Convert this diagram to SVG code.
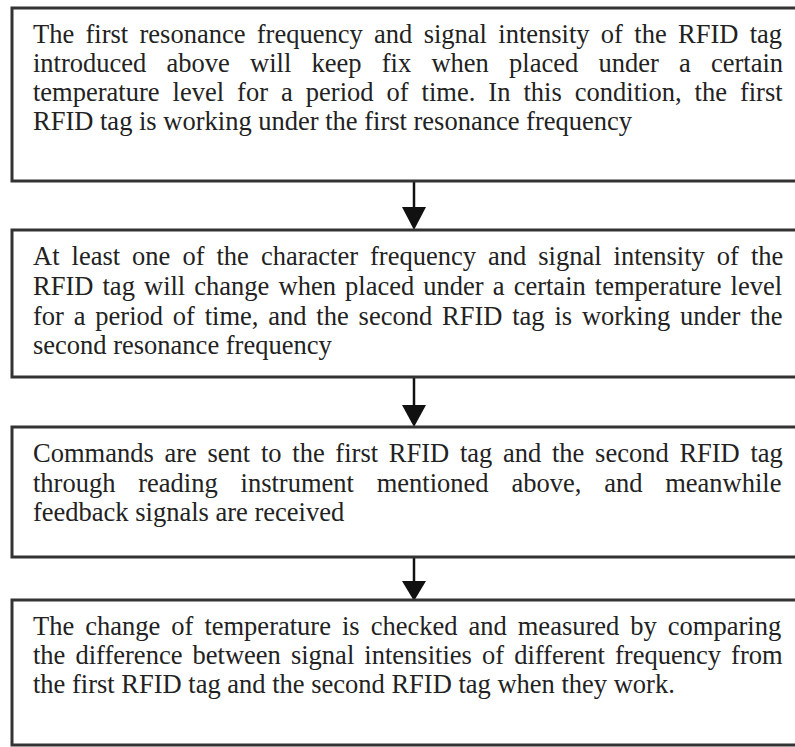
<svg xmlns="http://www.w3.org/2000/svg" width="795" height="747" viewBox="0 0 795 747">
<defs>
<style>
.box{fill:#fff;stroke:#333;stroke-width:3}
.t{font-family:"Liberation Serif","Times New Roman",serif;font-size:26.5px;fill:#222}
.c{stroke:#111;stroke-width:2.5;fill:none}
.h{fill:#111}
</style>
</defs>
<rect width="795" height="747" fill="#fff"/>
<g id="connectors">
<line class="c" x1="414" y1="181" x2="414" y2="210"/><polygon class="h" points="402,207 426,207 414,230"/>
<line class="c" x1="414" y1="377" x2="414" y2="407"/><polygon class="h" points="402,405 426,405 414,427"/>
<line class="c" x1="414" y1="557" x2="414" y2="584"/><polygon class="h" points="402,581 426,581 414,601"/>
</g>
<g id="node1">
<rect class="box" x="12" y="8" width="800" height="173"/>
<text class="t" x="33" y="43" word-spacing="4.7">The first resonance frequency and signal intensity of the RFID tag</text>
<text class="t" x="33" y="72" word-spacing="13.6">introduced above will keep fix when placed under a certain</text>
<text class="t" x="33" y="101" word-spacing="6.4">temperature level for a period of time. In this condition, the first</text>
<text class="t" x="33" y="130">RFID tag is working under the first resonance frequency</text>
</g>
<g id="node2">
<rect class="box" x="12" y="230" width="800" height="147"/>
<text class="t" x="33" y="265" word-spacing="5.4">At least one of the character frequency and signal intensity of the</text>
<text class="t" x="33" y="295" word-spacing="2.5">RFID tag will change when placed under a certain temperature level</text>
<text class="t" x="33" y="325" word-spacing="3.2">for a period of time, and the second RFID tag is working under the</text>
<text class="t" x="33" y="354">second resonance frequency</text>
</g>
<g id="node3">
<rect class="box" x="12" y="427" width="800" height="130"/>
<text class="t" x="33" y="462" word-spacing="4.1">Commands are sent to the first RFID tag and the second RFID tag</text>
<text class="t" x="33" y="492" word-spacing="16.2">through reading instrument mentioned above, and meanwhile</text>
<text class="t" x="33" y="521">feedback signals are received</text>
</g>
<g id="node4">
<rect class="box" x="12" y="600" width="800" height="145"/>
<text class="t" x="33" y="635" word-spacing="4.4">The change of temperature is checked and measured by comparing</text>
<text class="t" x="33" y="664" word-spacing="3.5">the difference between signal intensities of different frequency from</text>
<text class="t" x="33" y="693">the first RFID tag and the second RFID tag when they work.</text>
</g>
</svg>
